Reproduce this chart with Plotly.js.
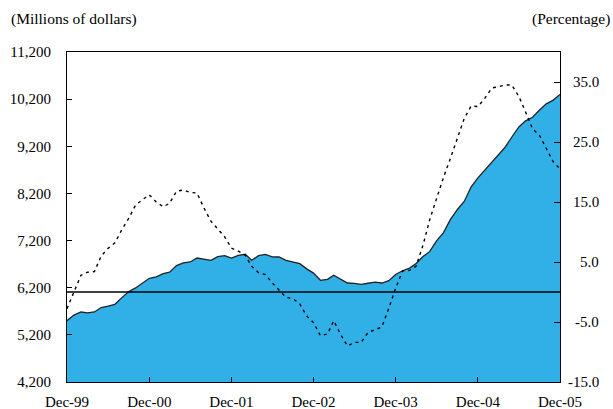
<!DOCTYPE html>
<html>
<head>
<meta charset="utf-8">
<script src="https://cdn.plot.ly/plotly-3.0.1.min.js"></script>
<style>html,body{margin:0;padding:0;background:#fff;}#chart{width:613px;height:409px;}</style>
</head>
<body>
<div id="chart"></div>
<script>
// Monthly, Dec-1999 .. Dec-2005
var startYear = 1999, startMonth = 12, nMonths = 73;

// Millions of dollars (left axis, filled area)
var amounts = [
  5500, 5620, 5685, 5665, 5685, 5780, 5810, 5848, 5990, 6120, 6195, 6290,
  6400, 6430, 6500, 6530, 6670, 6725, 6746, 6830, 6810, 6782, 6860, 6880,
  6830, 6888, 6909, 6782, 6880, 6905, 6855, 6852, 6780, 6740, 6711, 6600,
  6510, 6357, 6379, 6465, 6390, 6300, 6294, 6270, 6295, 6318, 6300, 6350,
  6480, 6560, 6615, 6715, 6860, 6970, 7200, 7370, 7650, 7860, 8030, 8340,
  8530, 8700, 8875, 9030, 9180, 9397, 9610, 9740, 9815, 9970, 10100, 10180,
  10300
];

// Percentage (right axis, dotted line)
var pct = [
  -2.8, 0.0, 2.8, 3.3, 3.4, 6.0, 7.3, 8.2, 10.4, 12.3, 14.5, 15.4,
  16.2, 15.0, 14.2, 14.8, 16.8, 17.0, 16.6, 16.5, 14.0, 11.8, 10.5, 9.2,
  7.3, 6.8, 6.1, 4.3, 3.2, 2.9, 1.5, 0.3, -0.9, -1.1, -2.0, -4.0,
  -5.1, -7.3, -7.0, -4.8, -7.1, -9.0, -8.4, -8.4, -6.7, -6.3, -5.8, -2.7,
  0.6, 3.5, 3.6, 4.3, 7.8, 12.1, 15.8, 19.1, 22.3, 25.8, 28.9, 31.0,
  30.9, 32.3, 34.0, 34.2, 34.5, 34.5, 32.6, 30.0, 27.2, 26.1, 23.8, 21.7,
  20.5
];

var xTickVals = ['1999-12-01','2000-12-01','2001-12-01','2002-12-01','2003-12-01','2004-12-01','2005-12-01'];
var xTickText = ['Dec-99','Dec-00','Dec-01','Dec-02','Dec-03','Dec-04','Dec-05'];
var leftTickVals = [4200, 5200, 6200, 7200, 8200, 9200, 10200, 11200];
var leftTickText = ['4,200','5,200','6,200','7,200','8,200','9,200','10,200','11,200'];
var rightTickVals = [-15, -5, 5, 15, 25, 35];
var rightTickText = ['-15.0','-5.0','5.0','15.0','25.0','35.0'];

var dates = [];
for (var i = 0; i < nMonths; i++) {
  var m = startMonth - 1 + i;
  var y = startYear + Math.floor(m / 12);
  var mm = (m % 12) + 1;
  dates.push(y + '-' + (mm < 10 ? '0' + mm : mm) + '-01');
}

var font = {family: 'Liberation Serif, Times New Roman, serif', size: 15, color: '#000'};
var titleFont = {family: 'Liberation Serif, Times New Roman, serif', size: 15.5, color: '#000'};

var traces = [
  {
    x: dates, y: amounts, type: 'scatter', mode: 'lines',
    fill: 'tozeroy', fillcolor: '#31b0e8',
    line: {color: '#222', width: 1.3},
    yaxis: 'y', hoverinfo: 'skip', showlegend: false
  },
  {
    x: dates, y: pct, type: 'scatter', mode: 'lines',
    line: {color: '#000', width: 1.4, dash: '3px,4px'},
    yaxis: 'y2', hoverinfo: 'skip', showlegend: false
  }
];

// right-aligned labels for the percentage axis
var rightLabels = rightTickVals.map(function (v, k) {
  return {text: rightTickText[k], xref: 'paper', yref: 'y2', x: 1 + 41/493, y: v,
          xanchor: 'right', yanchor: 'middle', showarrow: false, font: font};
});

var layout = {
  width: 613, height: 409,
  margin: {l: 67, r: 53, t: 52, b: 27, pad: 0},
  paper_bgcolor: '#fff', plot_bgcolor: '#fff',
  font: font,
  showlegend: false,
  xaxis: {
    type: 'date', range: ['1999-12-01', '2005-12-01'],
    tickvals: xTickVals, ticktext: xTickText,
    ticks: 'inside', ticklen: 5, tickwidth: 1, tickcolor: '#000',
    showline: true, linecolor: '#000', linewidth: 1, mirror: true,
    showgrid: false, zeroline: false, ticklabelstandoff: 6,
    tickfont: font
  },
  yaxis: {
    range: [4200, 11200],
    tickvals: leftTickVals, ticktext: leftTickText,
    ticks: 'inside', ticklen: 5, tickwidth: 1, tickcolor: '#000',
    showline: true, linecolor: '#000', linewidth: 1,
    showgrid: false, zeroline: false, ticklabelstandoff: 12,
    tickfont: font
  },
  yaxis2: {
    overlaying: 'y', side: 'right',
    range: [-15, 40],
    tickvals: rightTickVals, showticklabels: false,
    ticks: 'inside', ticklen: 6, tickwidth: 1, tickcolor: '#000',
    showline: true, linecolor: '#000', linewidth: 1,
    showgrid: false, zeroline: false
  },
  shapes: [
    {type: 'line', xref: 'paper', x0: 0, x1: 1, yref: 'y2', y0: 0, y1: 0,
     line: {color: '#000', width: 1.5}, layer: 'above'}
  ],
  annotations: [
    {text: '(Millions of dollars)', xref: 'paper', yref: 'paper', x: -67/493, y: 1 + 33/330,
     xanchor: 'left', yanchor: 'middle', showarrow: false, font: titleFont, xshift: 9},
    {text: '(Percentage)', xref: 'paper', yref: 'paper', x: 1 + 53/493, y: 1 + 33/330,
     xanchor: 'right', yanchor: 'middle', showarrow: false, font: titleFont, xshift: -1}
  ].concat(rightLabels)
};

Plotly.newPlot('chart', traces, layout, {displayModeBar: false, staticPlot: true});
</script>
</body>
</html>
